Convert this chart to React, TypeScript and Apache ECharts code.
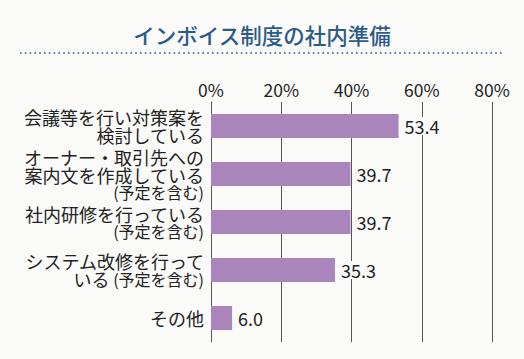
import React, { useEffect, useRef } from "react";
import * as echarts from "echarts";

const categories = [
  "{a|会議等を行い対策案を}\n{a|検討している}",
  "{a|オーナー・取引先への}\n{a|案内文を作成している}\n{b|(予定を含む)}",
  "{a|社内研修を行っている}\n{b|(予定を含む)}",
  "{a|システム改修を行って}\n{a|いる}{b| (予定を含む)}",
  "{a|その他}",
];
const values = [53.4, 39.7, 39.7, 35.3, 6.0];
const titleText = "インボイス制度の社内準備";

const FONT = "'Noto Sans CJK JP', 'Noto Sans', sans-serif";
const BG = "#fafaf8";

export default function App() {
  const ref = useRef<HTMLDivElement>(null);
  useEffect(() => {
    document.body.style.margin = "0";
    const chart = echarts.init(ref.current!, null, { renderer: "svg" });
    chart.setOption({
      animation: false,
      backgroundColor: BG,
      textStyle: { fontFamily: FONT },
      title: {
        text: titleText,
        left: "center",
        top: 19,
        textStyle: { fontSize: 21.5, fontWeight: 500, color: "#2b5b88", fontFamily: FONT },
      },
      graphic: [
        {
          type: "line",
          shape: { x1: 20, y1: 53, x2: 503, y2: 53 },
          style: { stroke: "#2b5b88", lineWidth: 1.6, lineDash: [1.6, 3.2] },
        },
      ],
      grid: { left: 211, right: 32, top: 102, bottom: 17 },
      xAxis: {
        type: "value",
        position: "top",
        min: 0,
        max: 80,
        interval: 20,
        axisLine: { show: false },
        axisTick: { show: false },
        axisLabel: {
          formatter: "{value}%",
          fontSize: 17.5,
          color: "#222",
          margin: 4,
          fontFamily: FONT,
        },
        splitLine: { show: true, lineStyle: { color: "#555", width: 1 } },
      },
      yAxis: {
        type: "category",
        inverse: true,
        data: categories,
        axisLine: { show: true, lineStyle: { color: "#555", width: 1 } },
        axisTick: { show: false },
        axisLabel: {
          margin: 7,
          color: "#222",
          align: "right",
          rich: {
            a: { fontSize: 18, lineHeight: 18, color: "#222", fontFamily: FONT },
            b: { fontSize: 16, lineHeight: 17, color: "#222", fontFamily: FONT },
          },
        },
      },
      series: [
        {
          type: "bar",
          data: values,
          barWidth: 24,
          itemStyle: { color: "#a985bb" },
          label: {
            show: true,
            position: "right",
            distance: 5,
            fontSize: 18,
            color: "#222",
            fontFamily: FONT,
            backgroundColor: BG,
            padding: [0, 1],
            formatter: (p: any) => p.value.toFixed(1),
          },
        },
      ],
    });
    return () => chart.dispose();
  }, []);
  return (
    <div
      ref={ref}
      style={{ position: "absolute", left: 0, top: 0, width: 524, height: 359 }}
    />
  );
}
